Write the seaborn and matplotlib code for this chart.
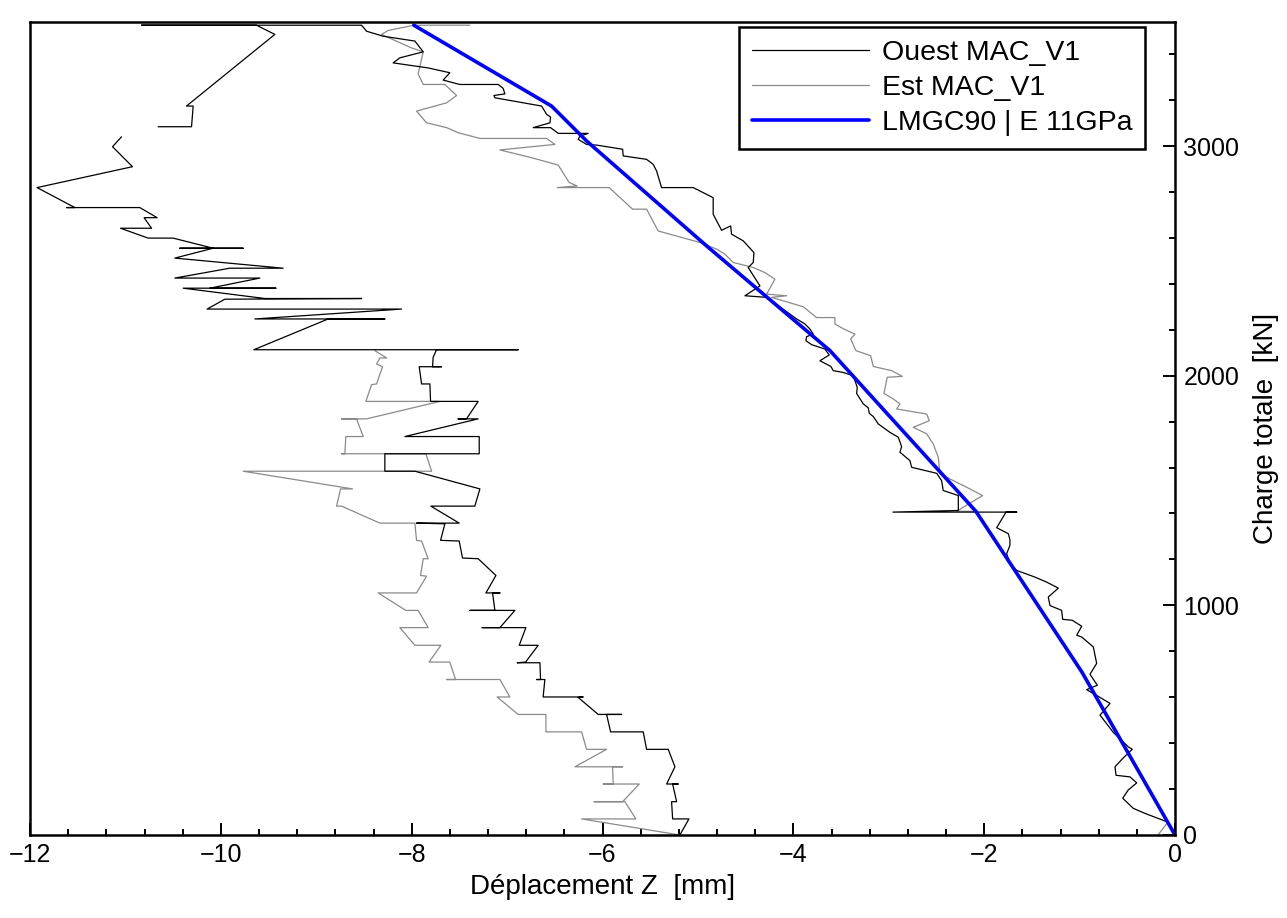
import matplotlib
matplotlib.use("Agg")
import matplotlib.pyplot as plt
from matplotlib.lines import Line2D
from matplotlib.ticker import MultipleLocator
import pandas as pd
import seaborn as sns

# ------------------------------------------------------------------
# Données : déplacement Z [mm] / charge [kN]
# ------------------------------------------------------------------

# Ouest MAC_V1 : branche droite (chargement) + retour par le haut
ouest_1_x = [0, -0.087, -0.314, -0.437, -0.548, -0.490, -0.401, -0.472, -0.618, -0.629,
             -0.548, -0.448, -0.490, -0.647, -0.786, -0.681, -0.794, -0.926, -0.814, -0.891,
             -0.821, -0.856, -0.978, -1.030, -0.978, -1.077, -1.177, -1.188, -1.310, -1.328,
             -1.223, -1.345, -1.468, -1.659, -1.730, -1.764, -1.730, -1.730, -1.747, -1.869,
             -1.771, -1.659, -2.956,
             -2.271, -2.271, -2.429, -2.446, -2.498, -2.760, -2.778, -2.883, -2.865, -2.900,
             -2.987, -3.110, -3.162, -3.204, -3.215, -3.267, -3.337, -3.330, -3.372, -3.477,
             -3.582, -3.606, -3.721, -3.624, -3.669, -3.808, -3.868, -3.861, -3.791, -3.826,
             -3.878, -3.965, -4.280, -4.507, -4.350, -4.473, -4.420, -4.413, -4.525, -4.647,
             -4.657, -4.752, -4.840, -4.840,
             -5.049, -5.381, -5.433, -5.468, -5.538, -5.783, -5.789, -6.062, -6.167, -6.255,
             -6.237, -6.150, -6.464, -6.544, -6.726, -6.551, -6.544, -6.586, -6.638, -6.936,
             -7.128, -7.138, -7.023, -7.041, -7.093, -7.495, -7.670, -7.600, -7.827, -8.194,
             -8.124, -7.879, -7.966, -8.299, -8.473, -8.525,
             -10.831, -9.626, -9.434, -10.360, -10.290, -10.307, -10.657]
ouest_1_y = [0, 58, 94, 116, 160, 196, 227, 253, 260, 297,
             333, 373, 384, 447, 522, 573, 601, 633, 652, 700,
             747, 819, 862, 870, 909, 935, 939, 978, 999, 1036,
             1075, 1101, 1123, 1152, 1181, 1225, 1261, 1286, 1312, 1338,
             1406, 1406, 1406,
             1413, 1478, 1500, 1543, 1575, 1601, 1630, 1667, 1691, 1732,
             1753, 1790, 1822, 1836, 1860, 1877, 1923, 1949, 2000, 2014,
             2022, 2040, 2065, 2090, 2116, 2135, 2152, 2170, 2181, 2203,
             2225, 2247, 2341, 2348, 2391, 2471, 2493, 2536, 2587, 2616,
             2652, 2633, 2703, 2775,
             2819, 2819, 2891, 2920, 2942, 2957, 2986, 3004, 3007, 3029,
             3043, 3055, 3055, 3080, 3080, 3101, 3126, 3138, 3174, 3196,
             3210, 3220, 3227, 3251, 3268, 3268, 3287, 3319, 3340, 3362,
             3384, 3410, 3457, 3478, 3500, 3526,
             3526, 3526, 3486, 3174, 3174, 3084, 3084]

# Ouest MAC_V1 : branche gauche (après la coupure)
ouest_2_x = [-11.041, -11.135, -10.926, -11.926, -11.530, -11.617, -10.849, -10.668, -10.804, -10.726,
             -11.051, -10.762, -10.500, -10.081, -9.766, -10.430, -10.081, -10.482, -9.347, -9.906,
             -10.482, -9.591, -10.115, -9.423, -10.395, -9.539, -8.525, -9.958, -10.144, -8.106,
             -9.644, -8.281, -8.875, -9.654, -6.884, -7.739, -7.775, -7.781, -7.687, -7.921,
             -7.896, -7.809, -7.802, -7.303, -7.425, -7.513, -7.303, -8.071, -7.292, -7.292,
             -8.281, -8.281, -7.966, -7.285, -7.338, -7.799, -7.502, -7.949, -7.652, -7.697,
             -7.502, -7.467, -7.303, -7.117, -7.222, -7.075, -7.152, -7.128, -7.390, -6.918,
             -7.075, -7.261, -6.803, -6.873, -6.674, -6.806, -6.894, -6.656, -6.649, -6.691,
             -6.604, -6.622, -6.202, -6.255, -6.045, -5.800, -5.957, -5.915, -5.573, -5.538,
             -5.311, -5.241, -5.328, -5.207, -5.265, -5.223, -5.276, -5.265, -5.094, -5.189]
ouest_2_y = [3040, 2997, 2910, 2819, 2732, 2732, 2732, 2688, 2688, 2642,
             2642, 2599, 2599, 2555, 2555, 2555, 2555, 2512, 2468, 2468,
             2425, 2425, 2381, 2381, 2381, 2336, 2336, 2333, 2290, 2290,
             2247, 2247, 2247, 2113, 2113, 2113, 2080, 2039, 2039, 2039,
             1964, 1964, 1888, 1888, 1812, 1812, 1812, 1735, 1735, 1660,
             1660, 1584, 1584, 1507, 1432, 1432, 1358, 1358, 1355, 1283,
             1280, 1206, 1203, 1130, 1054, 1054, 1054, 978, 978, 978,
             903, 903, 903, 826, 826, 753, 750, 750, 677, 677,
             677, 601, 601, 599, 525, 525, 525, 449, 449, 373,
             373, 297, 222, 222, 222, 145, 145, 70, 70, 0]

# Est MAC_V1 : branche droite
est_1_x = [-0.178, -0.073, -0.975, -2.096, -2.288, -2.016, -2.183, -2.271, -2.463, -2.481,
           -2.534, -2.603, -2.743, -2.575, -2.603, -2.917, -2.883, -2.953, -3.050, -3.016,
           -2.858, -2.970, -3.162, -3.190, -3.344, -3.399, -3.354, -3.470, -3.564, -3.564,
           -3.756, -3.896, -4.228, -4.070, -4.280, -4.193, -4.298, -4.420, -4.630, -4.717,
           -4.804, -4.979, -5.416, -5.538, -5.685, -5.930, -6.475, -6.265, -6.349, -6.464,
           -6.743, -7.075, -6.499, -6.586, -7.285, -7.513, -7.634, -7.844, -7.949, -7.634,
           -7.529, -7.652, -7.879, -7.932, -7.879, -8.001, -8.316, -8.246, -7.977, -7.390]
est_1_y = [0, 57, 709, 1409, 1410, 1478, 1514, 1532, 1573, 1645,
           1703, 1747, 1775, 1804, 1833, 1855, 1877, 1899, 1923, 1993,
           1997, 2022, 2040, 2087, 2109, 2160, 2181, 2203, 2225, 2253,
           2253, 2300, 2341, 2348, 2355, 2420, 2449, 2471, 2493, 2529,
           2551, 2580, 2630, 2725, 2725, 2819, 2819, 2826, 2841, 2917,
           2949, 2983, 3007, 3033, 3033, 3058, 3080, 3101, 3152, 3188,
           3220, 3268, 3268, 3314, 3410, 3427, 3486, 3503, 3526, 3526]

# Est MAC_V1 : branche gauche
est_2_x = [-8.386, -8.263, -8.333, -8.368, -8.305, -8.368, -8.420, -8.480, -7.704, -8.473,
           -8.735, -8.578, -8.508, -8.690, -8.700, -8.735, -7.851, -7.791, -9.766, -8.619,
           -8.745, -8.787, -8.735, -8.333, -7.966, -7.949, -7.896, -7.827, -7.879, -7.907,
           -7.844, -7.949, -8.351, -8.061, -7.932, -7.827, -8.124, -7.966, -7.694, -7.817,
           -7.600, -7.540, -7.634, -7.075, -6.971, -7.104, -6.884, -6.593, -6.593, -6.219,
           -6.167, -5.957, -6.289, -5.789, -5.894, -5.888, -5.993, -5.615, -5.789, -6.087,
           -5.765, -5.650, -6.219, -5.189]
est_2_y = [2109, 2077, 2077, 2051, 2039, 1964, 1961, 1888, 1888, 1812,
           1812, 1812, 1735, 1735, 1660, 1660, 1660, 1584, 1584, 1507,
           1507, 1432, 1432, 1358, 1358, 1283, 1280, 1203, 1203, 1130,
           1127, 1054, 1054, 978, 978, 903, 903, 826, 826, 753,
           753, 677, 677, 677, 601, 601, 525, 525, 449, 449,
           373, 373, 297, 297, 297, 222, 222, 222, 145, 145,
           145, 70, 70, 0]

# LMGC90 | E 11GPa
lmgc_x = [0, -0.975, -2.086, -3.616, -4.909, -6.167, -6.534, -7.977]
lmgc_y = [0, 709, 1409, 2109, 2565, 3022, 3174, 3526]

OUEST = "Ouest MAC_V1"
EST = "Est MAC_V1"
LMGC = "LMGC90 | E 11GPa"


def troncon(x, y, serie, nom):
    return pd.DataFrame({"dep": x, "charge": y, "serie": serie, "troncon": nom})


mesures = pd.concat(
    [
        troncon(est_1_x, est_1_y, EST, "est_1"),
        troncon(est_2_x, est_2_y, EST, "est_2"),
        troncon(ouest_1_x, ouest_1_y, OUEST, "ouest_1"),
        troncon(ouest_2_x, ouest_2_y, OUEST, "ouest_2"),
    ],
    ignore_index=True,
)
simu = pd.DataFrame({"dep": lmgc_x, "charge": lmgc_y})

# ------------------------------------------------------------------
# Figure
# ------------------------------------------------------------------
sns.set_theme(style="white")
plt.rcParams["font.family"] = ["Liberation Sans", "DejaVu Sans"]
plt.rcParams["text.color"] = "black"
plt.rcParams["axes.labelcolor"] = "black"

couleurs = {OUEST: "black", EST: "#8a8a8a"}

fig = plt.figure(figsize=(12.87, 9.18), dpi=100)
ax = fig.add_axes([30 / 1287, 83 / 918, 1145 / 1287, 813 / 918])

sns.lineplot(
    data=mesures, x="dep", y="charge", hue="serie", units="troncon",
    hue_order=[EST, OUEST], palette=couleurs, estimator=None, sort=False,
    linewidth=0.9, legend=False, ax=ax,
)
sns.lineplot(
    data=simu, x="dep", y="charge", color="#0000ff", estimator=None,
    sort=False, linewidth=2.6, legend=False, ax=ax,
)

ax.set_xlim(-12, 0)
ax.set_ylim(0, 3540)
ax.xaxis.set_major_locator(MultipleLocator(2))
ax.xaxis.set_minor_locator(MultipleLocator(0.4))
ax.yaxis.set_major_locator(MultipleLocator(1000))
ax.yaxis.set_minor_locator(MultipleLocator(200))
ax.yaxis.tick_right()
ax.yaxis.set_label_position("right")
ax.tick_params(which="both", direction="in", colors="black", width=1.4,
               bottom=True, right=True, left=False, top=False)
ax.tick_params(which="major", length=9, labelsize=18, pad=6)
ax.tick_params(which="minor", length=4.5)

for spine in ax.spines.values():
    spine.set_color("black")
    spine.set_linewidth(1.8)

ax.set_xlabel("Déplacement Z  [mm]", fontsize=20, labelpad=5)
ax.set_ylabel("Charge totale  [kN]", fontsize=20, labelpad=10)

poignees = [
    Line2D([], [], color="black", linewidth=0.9),
    Line2D([], [], color="#8a8a8a", linewidth=0.9),
    Line2D([], [], color="#0000ff", linewidth=2.6),
]
leg = ax.legend(
    poignees, [OUEST, EST, LMGC], loc="upper right",
    bbox_to_anchor=(0.9738, 0.9939), borderaxespad=0, fontsize=20.5,
    frameon=True, fancybox=False, framealpha=1, edgecolor="black",
    handlelength=4.1, handletextpad=0.45, labelspacing=0.32, borderpad=0.45,
)
leg.get_frame().set_linewidth(1.8)

fig.savefig("out.png", dpi=100)
